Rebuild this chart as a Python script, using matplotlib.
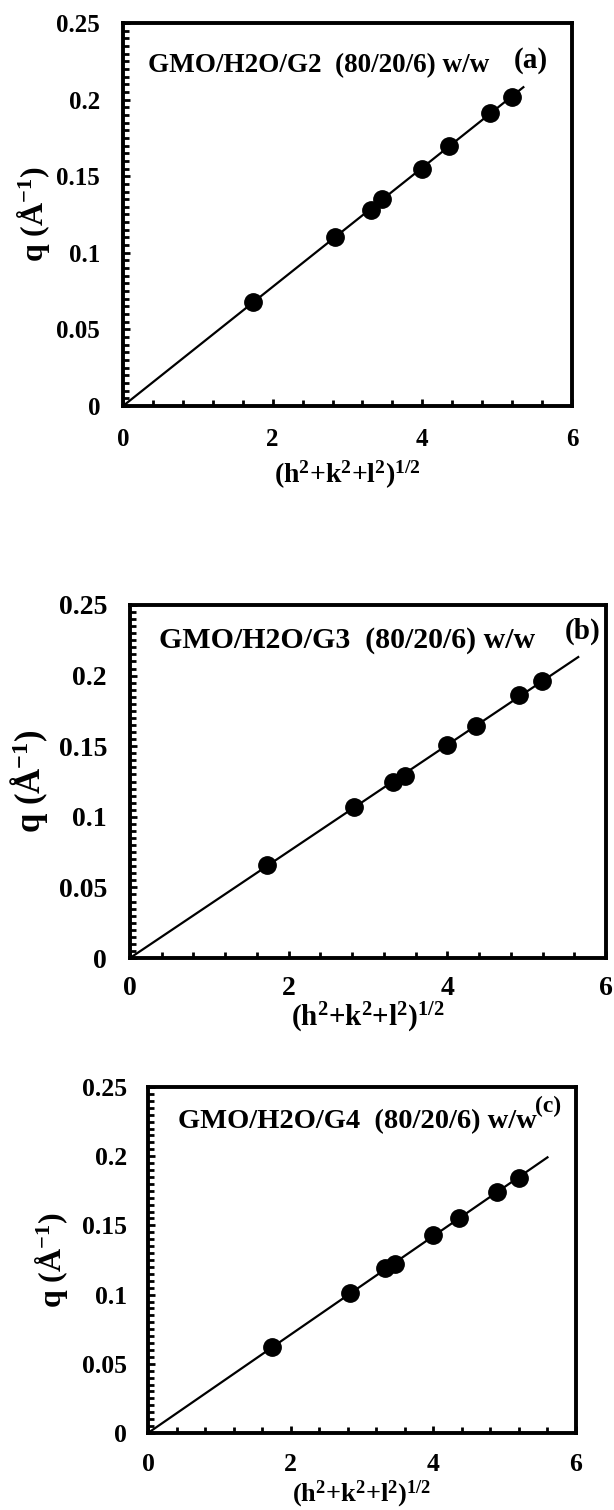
import numpy as np
import matplotlib
matplotlib.use("Agg")
import matplotlib.pyplot as plt
from matplotlib.ticker import MultipleLocator

plt.rcParams['font.family'] = ['Liberation Serif', 'DejaVu Serif']
plt.rcParams['font.weight'] = 'bold'
plt.rcParams['mathtext.fontset'] = 'custom'
plt.rcParams['mathtext.rm'] = 'Liberation Serif:bold'
plt.rcParams['mathtext.bf'] = 'Liberation Serif:bold'
plt.rcParams['mathtext.it'] = 'Liberation Serif:bold'

# Reflections sqrt(h^2+k^2+l^2) of the cubic phase
hkl = [1.732, 2.828, 3.317, 3.464, 4.0, 4.359, 4.899, 5.196]

# Peak positions q (1/A) for each sample
q_g2 = [0.068, 0.110, 0.128, 0.135, 0.155, 0.170, 0.191, 0.202]
q_g3 = [0.066, 0.107, 0.125, 0.129, 0.151, 0.164, 0.186, 0.196]
q_g4 = [0.062, 0.1015, 0.119, 0.122, 0.143, 0.155, 0.174, 0.184]

samples = ["GMO/H2O/G2  (80/20/6) w/w",
           "GMO/H2O/G3  (80/20/6) w/w",
           "GMO/H2O/G4  (80/20/6) w/w"]
tags = ["(a)", "(b)", "(c)"]
fit_end = [5.35, 5.65, 5.6]

fig = plt.figure(figsize=(6.14, 15.10), dpi=100)

# panel boxes in pixels: left, top, right, bottom
W, H = 614, 1510
boxes = [(123, 23, 572, 406), (130, 605, 606, 958), (148, 1087, 576, 1433)]
tick_fs = [18, 20, 18.5]
ylab_fs = [23, 25, 23]
xlab_fs = [20, 21, 19]
txt_fs = [19.5, 21.5, 20.5]
tag_fs = [21, 21, 17]
txt_pos = [(0.056, 0.89), (0.061, 0.90), (0.07, 0.90)]
tag_pos = [(0.909, 0.903), (0.95, 0.924), (0.935, 0.945)]
xlab_y = [475, 1018, 1494]
ylab_x = [33, 29, 52]
xtick_y = [437, 985, 1462]
ytick_right = [100, 107, 127]

for i, q in enumerate([q_g2, q_g3, q_g4]):
    l, t, r, b = boxes[i]
    ax = fig.add_axes([l / W, 1 - b / H, (r - l) / W, (b - t) / H])

    x = np.array(hkl)
    y = np.array(q)
    slope = np.sum(x * y) / np.sum(x * x)
    xf = np.array([0, fit_end[i]])
    ax.plot(xf, slope * xf, color='black', lw=1.6, zorder=2)
    ax.plot(x, y, 'o', color='black', ms=12.5, zorder=3)

    ax.set_xlim(0, 6)
    ax.set_ylim(0, 0.25)
    ax.xaxis.set_minor_locator(MultipleLocator(0.4))
    ax.yaxis.set_minor_locator(MultipleLocator(0.005))
    ax.set_yticks([0, 0.05, 0.1, 0.15, 0.2, 0.25])
    ax.set_yticklabels(["0", "0.05", "0.1", "0.15", "0.2", "0.25"])
    ax.set_xticks([0, 2, 4, 6])
    ax.set_xticklabels(["0", "2", "4", "6"])

    ypad = (l - ytick_right[i]) / 1.389
    xpad = (xtick_y[i] - b - 9) / 1.389
    ax.tick_params(axis='y', which='both', direction='in', left=True, right=False,
                   labelsize=tick_fs[i], pad=ypad, width=2)
    ax.tick_params(axis='x', which='both', direction='in', bottom=True, top=False,
                   labelsize=tick_fs[i], pad=xpad, width=2)
    ax.tick_params(which='major', length=5)
    ax.tick_params(which='minor', length=4)
    for s in ax.spines.values():
        s.set_linewidth(2.8)

    ax.set_xlabel(r"(h$^{2}$+k$^{2}$+l$^{2}$)$^{1/2}$", fontsize=xlab_fs[i], fontweight='bold')
    ax.xaxis.label.set_va('center')
    ax.xaxis.set_label_coords(0.5, -(xlab_y[i] - b) / (b - t))
    ax.set_ylabel(r"q (Å$^{-1}$)", fontsize=ylab_fs[i], fontweight='bold')
    ax.yaxis.label.set_va('center')
    ax.yaxis.set_label_coords((ylab_x[i] - l) / (r - l), 0.5)

    ax.text(txt_pos[i][0], txt_pos[i][1], samples[i], transform=ax.transAxes,
            fontsize=txt_fs[i], fontweight='bold', ha='left', va='center')
    ax.text(tag_pos[i][0], tag_pos[i][1], tags[i], transform=ax.transAxes,
            fontsize=tag_fs[i], fontweight='bold', ha='center', va='center')

fig.savefig("out.png", dpi=100)
